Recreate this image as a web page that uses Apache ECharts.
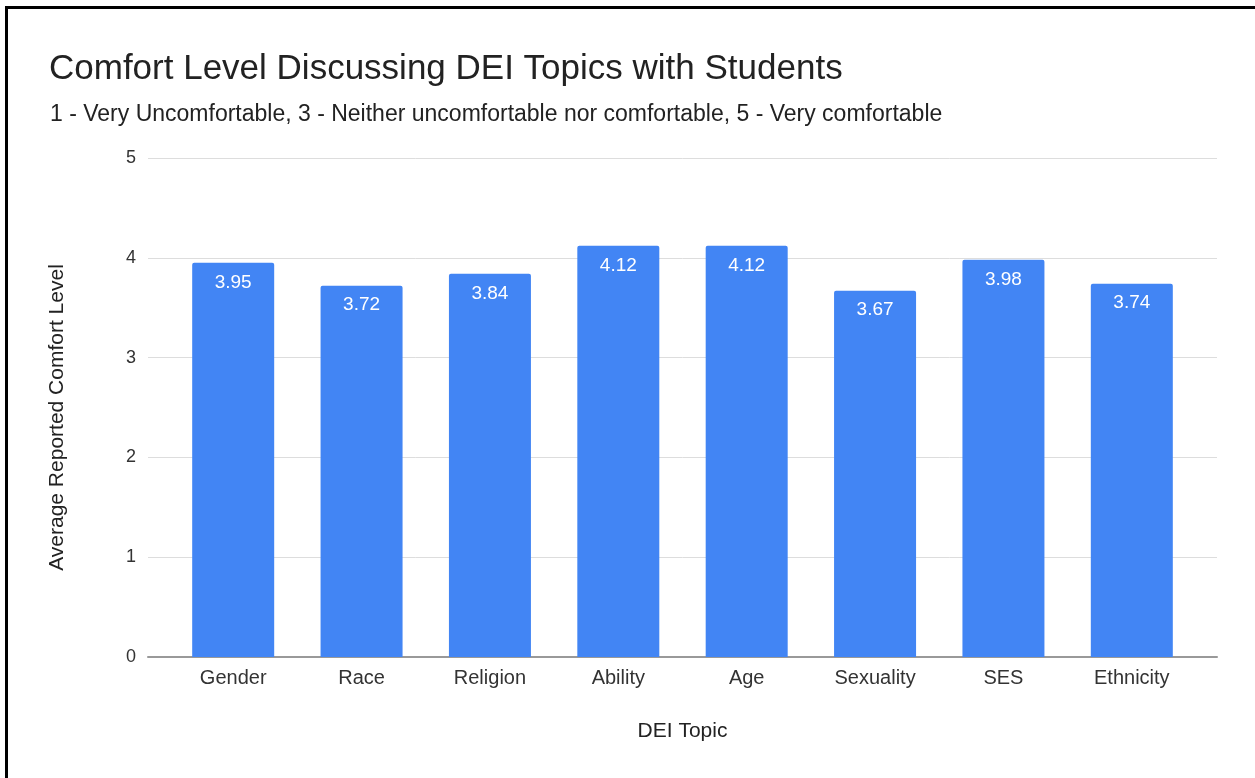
<!DOCTYPE html>
<html>
<head>
<meta charset="utf-8">
<title>Comfort Level Discussing DEI Topics with Students</title>
<script src="https://cdn.jsdelivr.net/npm/echarts@6/dist/echarts.min.js"></script>
<style>
  html, body { margin: 0; padding: 0; background: #ffffff; }
  #chart { width: 1255px; height: 778px; }
</style>
</head>
<body>
<div id="chart"></div>
<script>
// Survey topics and average reported comfort (1-5 scale)
const topics = ['Gender', 'Race', 'Religion', 'Ability', 'Age', 'Sexuality', 'SES', 'Ethnicity'];
const comfortLevels = [3.95, 3.72, 3.84, 4.12, 4.12, 3.67, 3.98, 3.74];
const yTicks = [0, 1, 2, 3, 4, 5];

const chartTitle = 'Comfort Level Discussing DEI Topics with Students';
const chartSubtitle = '1 - Very Uncomfortable, 3 - Neither uncomfortable nor comfortable, 5 - Very comfortable';
const yAxisTitle = 'Average Reported Comfort Level';
const xAxisTitle = 'DEI Topic';

const font = 'Liberation Sans, Arial, Helvetica, sans-serif';
const chart = echarts.init(document.getElementById('chart'), null, { renderer: 'canvas' });

const yMin = yTicks[0];
const yMax = yTicks[yTicks.length - 1];

chart.setOption({
  backgroundColor: '#ffffff',
  animation: false,
  textStyle: { fontFamily: font },
  title: [
    {
      text: chartTitle,
      left: 44, top: 47,
      textStyle: { fontFamily: font, fontSize: 35, fontWeight: 'normal', color: '#222222' }
    },
    {
      text: chartSubtitle,
      left: 45, top: 98,
      textStyle: { fontFamily: font, fontSize: 23, fontWeight: 'normal', color: '#222222' }
    }
  ],
  // frame lines along the top and left edges
  graphic: [
    { type: 'line', shape: { x1: 5, y1: 7.5, x2: 1255, y2: 7.5 }, style: { stroke: '#000', lineWidth: 3 } },
    { type: 'line', shape: { x1: 6.5, y1: 6, x2: 6.5, y2: 778 }, style: { stroke: '#000', lineWidth: 3 } }
  ],
  grid: [
    // full-width grid carrying gridlines, y labels and baseline
    { left: 148, right: 38, top: 158, bottom: 121 },
    // inner grid for the bars and category labels
    { left: 169, right: 59, top: 158, bottom: 121 }
  ],
  xAxis: [
    {
      gridIndex: 0,
      type: 'category',
      data: topics,
      axisLabel: { show: false },
      axisTick: { show: false },
      axisLine: { show: true, lineStyle: { color: '#999999', width: 2 } },
      name: xAxisTitle,
      nameLocation: 'middle',
      nameGap: 64,
      nameTextStyle: { fontFamily: font, fontSize: 21, color: '#222222' }
    },
    {
      gridIndex: 1,
      type: 'category',
      data: topics,
      axisLine: { show: false },
      axisTick: { show: false },
      axisLabel: { fontFamily: font, fontSize: 20, color: '#333333', margin: 11 }
    }
  ],
  yAxis: [
    {
      gridIndex: 0,
      type: 'value',
      min: yMin, max: yMax, interval: 1,
      axisLine: { show: false },
      axisTick: { show: false },
      axisLabel: { fontFamily: font, fontSize: 18, color: '#333333', margin: 12 },
      splitLine: { show: true, lineStyle: { color: '#dddddd', width: 1 } },
      name: yAxisTitle,
      nameLocation: 'middle',
      nameGap: 80,
      nameRotate: 90,
      nameTextStyle: { fontFamily: font, fontSize: 21, color: '#222222', padding: [0, 20, 0, 0] }
    },
    {
      gridIndex: 1,
      type: 'value',
      min: yMin, max: yMax, interval: 1,
      show: false,
      splitLine: { show: false }
    }
  ],
  series: [
    {
      type: 'bar',
      xAxisIndex: 1,
      yAxisIndex: 1,
      data: comfortLevels,
      barWidth: 82,
      itemStyle: { color: '#4285F4', borderRadius: [2, 2, 0, 0] },
      label: {
        show: true,
        position: 'insideTop',
        distance: 10,
        color: '#ffffff',
        fontFamily: font,
        fontSize: 19,
        formatter: p => p.value.toFixed(2)
      }
    }
  ]
});
</script>
</body>
</html>
